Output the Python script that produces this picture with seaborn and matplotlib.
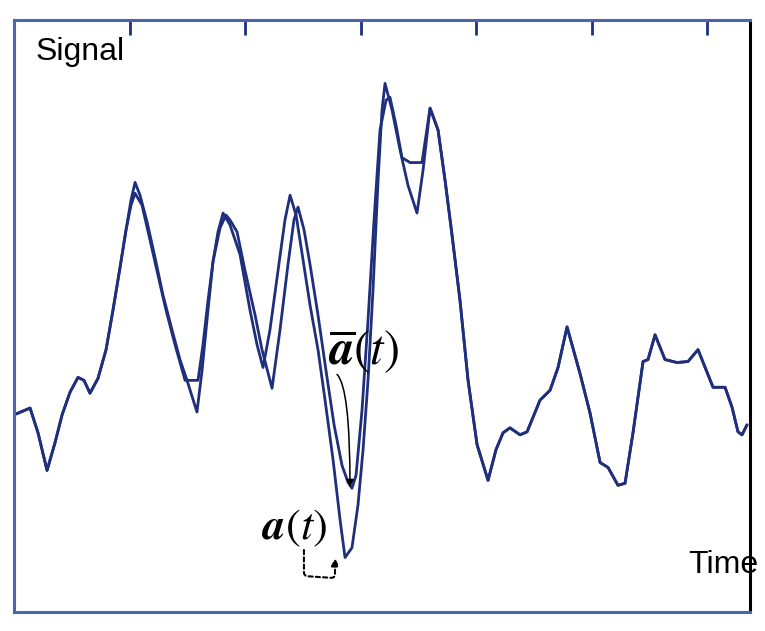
import numpy as np
import pandas as pd
import matplotlib
matplotlib.use("Agg")
import matplotlib.pyplot as plt
import seaborn as sns

# raw signal a(t)
t_a = [0.017, 0.139, 0.208, 0.286, 0.355, 0.416, 0.485, 0.554, 0.606, 0.658,
       0.727, 0.797, 0.857, 0.918, 0.970, 1.013, 1.048, 1.091, 1.152, 1.221,
       1.290, 1.368, 1.437, 1.498, 1.584, 1.628, 1.671, 1.723, 1.766, 1.810,
       1.870, 1.957, 2.043, 2.104, 2.156, 2.216, 2.286, 2.346, 2.390, 2.442,
       2.502, 2.563, 2.632, 2.693, 2.762, 2.823, 2.866, 2.926, 2.978, 3.022,
       3.065, 3.108, 3.152, 3.186, 3.212, 3.273, 3.342, 3.411, 3.489, 3.541,
       3.602, 3.671, 3.732, 3.792, 3.861, 3.931, 4.009, 4.104, 4.173, 4.234,
       4.294, 4.381, 4.442, 4.554, 4.641, 4.710, 4.788, 4.900, 4.987, 5.074,
       5.143, 5.229, 5.290, 5.359, 5.446, 5.489, 5.550, 5.636, 5.740, 5.835,
       5.922, 6.052, 6.156, 6.216, 6.268, 6.303, 6.346]
a_vals = [2.00, 2.06, 1.81, 1.43, 1.71, 1.99, 2.22, 2.37, 2.34, 2.21,
          2.36, 2.65, 3.05, 3.48, 3.86, 4.16, 4.34, 4.21, 3.94, 3.58,
          3.20, 2.85, 2.55, 2.34, 2.02, 2.44, 2.95, 3.54, 3.84, 4.03,
          3.91, 3.61, 3.05, 2.70, 2.47, 2.85, 3.45, 3.96, 4.21, 4.01,
          3.56, 3.10, 2.65, 2.14, 1.54, 0.93, 0.55, 0.65, 1.08, 1.64,
          2.34, 3.25, 4.36, 5.07, 5.34, 5.07, 4.67, 4.31, 4.03, 4.46,
          5.09, 4.87, 4.36, 3.81, 3.15, 2.34, 1.69, 1.33, 1.64, 1.81,
          1.86, 1.79, 1.82, 2.14, 2.24, 2.47, 2.88, 2.41, 2.01, 1.51,
          1.46, 1.28, 1.30, 1.81, 2.53, 2.55, 2.80, 2.55, 2.52, 2.53,
          2.65, 2.27, 2.27, 2.07, 1.82, 1.79, 1.89]

# smoothed signal a-bar(t)
t_abar = [0.017, 0.139, 0.208, 0.286, 0.355, 0.416, 0.485, 0.554, 0.606, 0.658,
          0.727, 0.797, 0.857, 0.918, 0.970, 1.013, 1.048, 1.108, 1.177, 1.247,
          1.316, 1.394, 1.481, 1.593, 1.636, 1.680, 1.723, 1.784, 1.835, 1.870,
          1.931, 2.000, 2.087, 2.147, 2.234, 2.303, 2.372, 2.424, 2.459, 2.511,
          2.563, 2.632, 2.701, 2.771, 2.840, 2.892, 2.926, 2.961, 3.013, 3.065,
          3.117, 3.169, 3.221, 3.255, 3.307, 3.359, 3.429, 3.532, 3.602, 3.671,
          3.732, 3.792, 3.861, 3.931, 4.009, 4.104, 4.173, 4.234, 4.294, 4.381,
          4.442, 4.554, 4.641, 4.710, 4.788, 4.900, 4.987, 5.074, 5.143, 5.229,
          5.290, 5.359, 5.446, 5.489, 5.550, 5.636, 5.740, 5.835, 5.922, 6.052,
          6.156, 6.216, 6.268, 6.303, 6.346]
abar_vals = [2.00, 2.06, 1.81, 1.43, 1.71, 1.99, 2.22, 2.37, 2.34, 2.21,
             2.36, 2.65, 3.05, 3.48, 3.86, 4.11, 4.23, 4.11, 3.76, 3.40,
             3.05, 2.70, 2.34, 2.34, 2.70, 3.15, 3.54, 3.88, 4.01, 3.96,
             3.84, 3.45, 3.00, 2.65, 2.26, 2.85, 3.51, 3.96, 4.09, 3.86,
             3.51, 3.00, 2.44, 1.89, 1.48, 1.31, 1.25, 1.38, 2.04, 2.95,
             3.96, 4.87, 5.17, 5.20, 4.92, 4.59, 4.54, 4.54, 5.09, 4.87,
             4.36, 3.81, 3.15, 2.34, 1.69, 1.33, 1.64, 1.81, 1.86, 1.79,
             1.82, 2.14, 2.24, 2.47, 2.88, 2.41, 2.01, 1.51, 1.46, 1.28,
             1.30, 1.81, 2.53, 2.55, 2.80, 2.55, 2.52, 2.53, 2.65, 2.27,
             2.27, 2.07, 1.82, 1.79, 1.89]

x_ticks = [1, 2, 3, 4, 5, 6]
y_ticks = [1, 2, 3, 4, 5]

sns.set_style("white")
plt.rcParams["font.family"] = ["Liberation Sans", "DejaVu Sans"]
plt.rcParams["mathtext.fontset"] = "stix"
plt.rcParams["text.color"] = "black"

line_color = "#1f2f7c"
frame_color = "#4a66b0"

fig = plt.figure(figsize=(7.65, 6.31), dpi=100)
ax = fig.add_axes([0.0183, 0.0301, 0.9621, 0.9382])

df_a = pd.DataFrame({"time": t_a, "signal": a_vals})
df_abar = pd.DataFrame({"time": t_abar, "signal": abar_vals})
sns.lineplot(data=df_a, x="time", y="signal", ax=ax, color=line_color,
             lw=2.0, estimator=None, sort=False)
sns.lineplot(data=df_abar, x="time", y="signal", ax=ax, color=line_color,
             lw=2.0, estimator=None, sort=False)

ax.set_xlim(0, 6.372)
ax.set_ylim(0, 5.98)
ax.set_xticks(x_ticks)
ax.set_yticks(y_ticks)
ax.set_xticklabels([])
ax.set_yticklabels([])
ax.set_xlabel("")
ax.set_ylabel("")
ax.tick_params(axis="x", direction="in", top=True, length=11, width=2,
               color=line_color)
ax.tick_params(axis="y", direction="in", right=False, length=6, width=2,
               color=line_color)

for side in ["left", "top", "bottom"]:
    ax.spines[side].set_color(frame_color)
    ax.spines[side].set_linewidth(2.2)
ax.spines["right"].set_color("black")
ax.spines["right"].set_linewidth(2.2)

ax.text(0.19, 5.58, "Signal", fontsize=23, va="baseline", ha="left")
ax.text(5.84, 0.39, "Time", fontsize=23, va="baseline", ha="left",
        clip_on=False, zorder=5)

ax.text(2.72, 2.50, r"$\overline{\boldsymbol{a}}(t)$", fontsize=35,
        va="baseline", ha="left")
ax.text(2.15, 0.73, r"$\boldsymbol{a}(t)$", fontsize=32,
        va="baseline", ha="left")

ax.annotate("", xy=(2.909, 1.26), xytext=(2.797, 2.40),
            arrowprops=dict(arrowstyle="-|>", color="black", lw=1.1,
                            mutation_scale=11, shrinkA=0, shrinkB=0,
                            connectionstyle="angle3,angleA=-45,angleB=-90"))
ax.annotate("", xy=(2.779, 0.545), xytext=(2.510, 0.626),
            arrowprops=dict(arrowstyle="-|>", color="black", lw=1.5,
                            ls=(0, (2, 1.5)), mutation_scale=11,
                            shrinkA=0, shrinkB=0,
                            connectionstyle="arc,angleA=-90,angleB=-90,armA=26,armB=20,rad=4"))

fig.savefig("out.png", dpi=100, facecolor="white")
